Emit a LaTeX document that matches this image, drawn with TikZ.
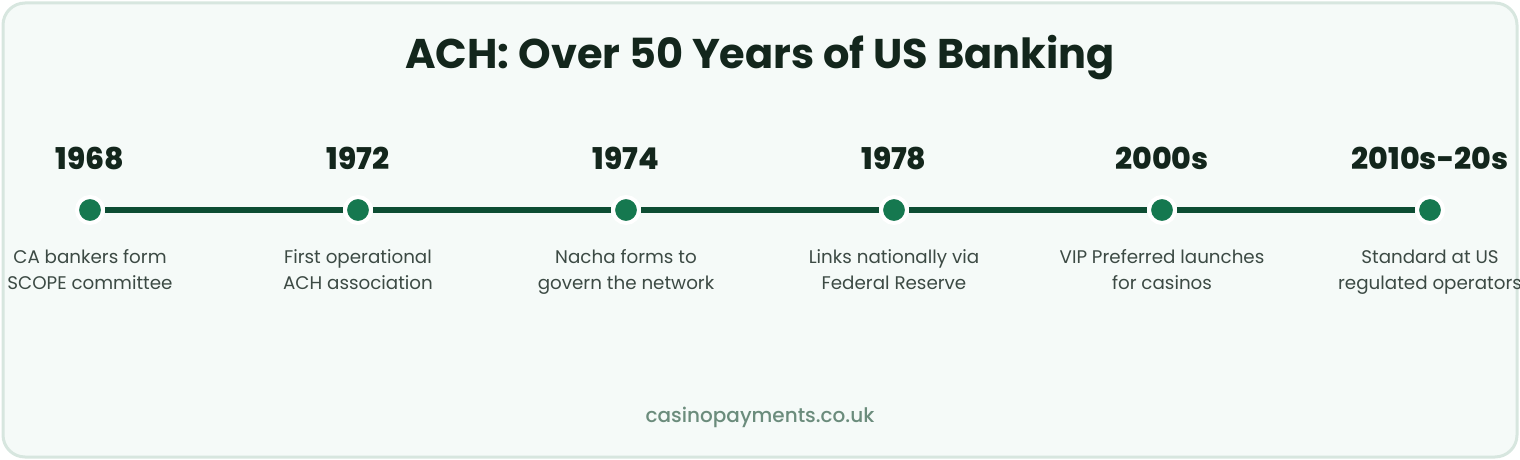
\documentclass[tikz,border=0pt]{standalone}
\usepackage{fontspec}
\setmainfont{Poppins}
\newfontfamily\heavyfont{Poppins ExtraBold}
\newfontfamily\mediumfont{Poppins Medium}
\definecolor{panelfill}{HTML}{F5FAF8}
\definecolor{panelline}{HTML}{D7E6DF}
\definecolor{titleink}{HTML}{13261C}
\definecolor{lineink}{HTML}{0D4D33}
\definecolor{dotink}{HTML}{15784F}
\definecolor{labelink}{HTML}{3C4A44}
\definecolor{footink}{HTML}{6B8C7C}

\begin{document}
\begin{tikzpicture}[x=1pt, y=-1pt]
          \tikzstyle{milestone}=[circle, fill=dotink, draw=white, line width=4pt, inner sep=0pt, minimum size=26pt]
          \tikzstyle{year}=[font=\fontsize{30}{34}\selectfont\heavyfont, text=titleink]
          \tikzstyle{event}=[anchor=north, align=center, font=\fontsize{18.3}{26}\selectfont, text=labelink]
          \tikzstyle{link}=[draw=lineink, line width=6pt]

          \useasboundingbox (0, 0) rectangle (1520, 460);
          \draw [fill=panelfill, draw=panelline, line width=3pt, rounded corners=22pt] (3, 3) rectangle (1517, 457);

          \node (title) at (760, 58) [font=\fontsize{41.5}{46}\selectfont\bfseries, text=titleink] {ACH: Over 50 Years of US Banking};

          \node (y1968) at (90, 158) [year] {1968};
          \node (y1972) at (358, 158) [year] {1972};
          \node (y1974) at (626, 158) [year] {1974};
          \node (y1978) at (894, 158) [year] {1978};
          \node (y2000) at (1162, 158) [year] {2000s};
          \node (y2010) at (1430, 158) [year] {2010s-20s};

          \node (d1968) at (90, 210) [milestone] {};
          \node (d1972) at (358, 210) [milestone] {};
          \node (d1974) at (626, 210) [milestone] {};
          \node (d1978) at (894, 210) [milestone] {};
          \node (d2000) at (1162, 210) [milestone] {};
          \node (d2010) at (1430, 210) [milestone] {};

          \draw [link] (d1968) -- (d1972);
          \draw [link] (d1972) -- (d1974);
          \draw [link] (d1974) -- (d1978);
          \draw [link] (d1978) -- (d2000);
          \draw [link] (d2000) -- (d2010);

          \node (e1968) at (90, 246) [event] {CA bankers form\\SCOPE committee};
          \node (e1972) at (358, 246) [event] {First operational\\ACH association};
          \node (e1974) at (626, 246) [event] {Nacha forms to\\govern the network};
          \node (e1978) at (894, 246) [event] {Links nationally via\\Federal Reserve};
          \node (e2000) at (1162, 246) [event] {VIP Preferred launches\\for casinos};
          \node (e2010) at (1430, 246) [event] {Standard at US\\regulated operators};

          \node (footer) at (760, 417) [font=\fontsize{20}{22}\selectfont\mediumfont, text=footink] {casinopayments.co.uk};
        \end{tikzpicture}
\end{document}
